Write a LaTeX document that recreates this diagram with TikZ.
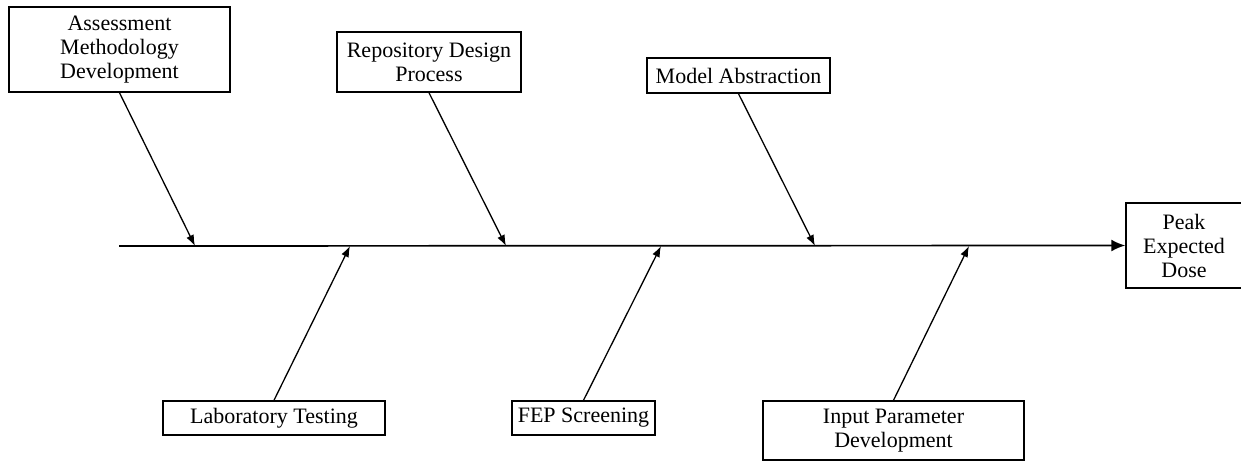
\documentclass[tikz,border=0pt]{standalone}
\usepackage{fontspec}
\setmainfont{Liberation Serif}
\usetikzlibrary{arrows.meta}
\begin{document}
\begin{tikzpicture}[x=1pt,y=-1pt,
  cause/.style={draw=black,line width=1.5pt,align=center,inner sep=0pt,
    font=\fontsize{22}{24}\selectfont},
  bone/.style={line width=1.3pt,-{Latex[length=11pt,width=8pt]}},
  spine/.style={line width=1.7pt,-{Latex[length=14pt,width=12pt]}}]
\useasboundingbox (0,0) rectangle (1241,463);
% top boxes
\node[cause,minimum width=221pt,minimum height=85pt] (b1) at (119.5,49.5) {Assessment\\Methodology\\Development};
\node[cause,minimum width=184pt,minimum height=60pt] (b2) at (429,62) {Repository Design\\Process};
\node[cause,minimum width=183pt,minimum height=35pt] (b3) at (738.5,75.5) {Model Abstraction};
% bottom boxes
\node[cause,minimum width=222pt,minimum height=34pt] (b4) at (274,418) {Laboratory Testing};
\node[cause,minimum width=143pt,minimum height=34pt] (b5) at (583.5,418) {FEP Screening};
\node[cause,minimum width=261pt,minimum height=59pt] (b6) at (893.5,430.5) {Input Parameter\\Development};
% effect
\node[cause,minimum width=116pt,minimum height=85pt,text width=110pt] (b7) at (1184,245.5) {Peak\\Expected\\Dose};
% spine
\coordinate (s0) at (119,246);
\draw[spine] (s0) -- (b7.west);
% points on spine
\coordinate (t1) at (195,246);
\coordinate (t2) at (506,246);
\coordinate (t3) at (815,246);
\coordinate (t4) at (350,246);
\coordinate (t5) at (661,246);
\coordinate (t6) at (969,246);
\draw[bone] (b1.south) -- (t1);
\draw[bone] (b2.south) -- (t2);
\draw[bone] (b3.south) -- (t3);
\draw[bone] (b4.north) -- (t4);
\draw[bone] (b5.north) -- (t5);
\draw[bone] (b6.north) -- (t6);
\end{tikzpicture}
\end{document}
